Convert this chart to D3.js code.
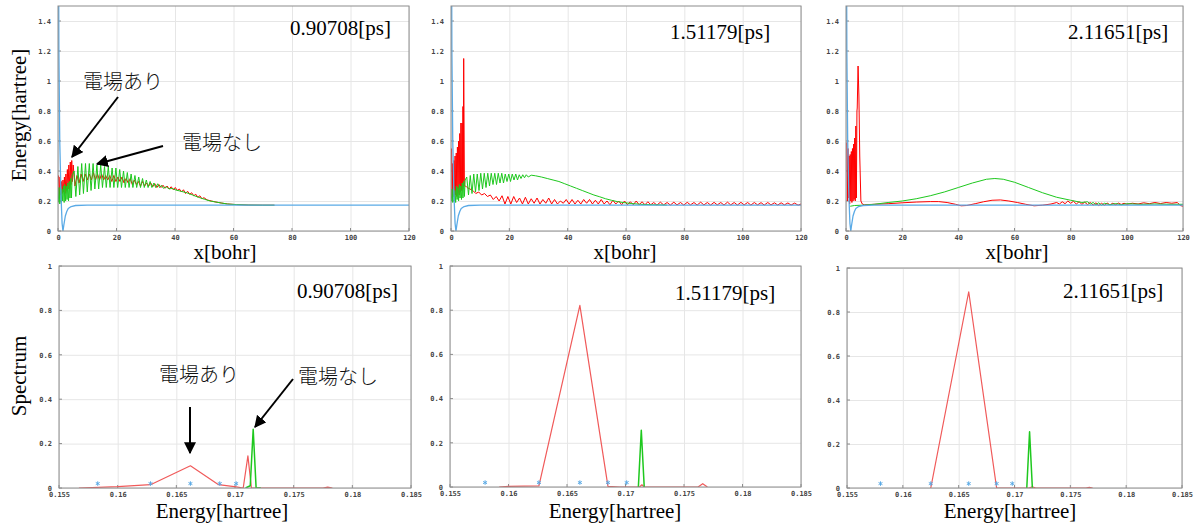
<!DOCTYPE html>
<html>
<head>
<meta charset="utf-8">
<script src="https://cdn.jsdelivr.net/npm/d3@7"></script>
<style>
  body { margin: 0; background: #fff; }
  svg { display: block; }
  .tick-label { font-family: "DejaVu Sans Mono", monospace; font-size: 7px; font-weight: bold; fill: #444; }
  .serif { font-family: "Liberation Serif", "Times New Roman", serif; fill: #000; }
  .jp { font-family: "Noto Sans CJK JP", sans-serif; font-size: 20px; font-weight: 300; fill: #111; }
</style>
</head>
<body>
<div id="chart"></div>
<script>
const redColor = '#ff0000';
const greenColor = '#1ec81e';
const blueColor = '#5aaae6';
const specRed = '#f05a5a';
const frameColor = '#8c8c8c';
const gridColor = '#e6e6e6';

// ---- tick values / labels
const topXTicks = [0, 20, 40, 60, 80, 100, 120];
const topXLabels = ['0', '20', '40', '60', '80', '100', '120'];
const topYTicks = [0, 0.2, 0.4, 0.6, 0.8, 1, 1.2, 1.4];
const topYLabels = ['0', '0.2', '0.4', '0.6', '0.8', '1', '1.2', '1.4'];
const botXTicks = [0.155, 0.16, 0.165, 0.17, 0.175, 0.18, 0.185];
const botXLabels = ['0.155', '0.16', '0.165', '0.17', '0.175', '0.18', '0.185'];
const botYTicks = [0, 0.2, 0.4, 0.6, 0.8, 1];
const botYLabels = ['0', '0.2', '0.4', '0.6', '0.8', '1'];

const times = ['0.90708[ps]', '1.51179[ps]', '2.11651[ps]'];

// ---- potential (same in all three energy plots)
const potential = [[0, 3], [0.3, 1.2], [0.6, 0.6], [1, 0.25], [1.4, 0.05], [1.7, 0], [2, 0.04], [2.5, 0.1],
  [3, 0.13], [3.5, 0.15], [4.5, 0.163], [6, 0.17], [10, 0.172], [120, 0.172]];

// ---- t = 0.90708 ps, energy vs x
const redT1 = [[0.2, 0.37], [0.45, 0.22], [0.7, 0.36], [0.95, 0.24], [1.2, 0.33], [1.45, 0.25], [1.7, 0.34], [1.95, 0.26],
  [2.2, 0.36], [2.45, 0.25], [2.7, 0.38], [2.95, 0.27], [3.2, 0.41], [3.45, 0.28], [3.7, 0.44], [3.95, 0.30], [4.2, 0.46],
  [4.45, 0.31], [4.7, 0.47], [4.95, 0.33], [5.2, 0.44], [5.8, 0.30], [6.5, 0.37], [7.2, 0.32], [7.9, 0.38], [8.6, 0.33],
  [9.3, 0.38], [10, 0.34], [10.7, 0.38], [11.4, 0.34], [12.1, 0.39], [12.8, 0.34], [13.5, 0.38], [14.2, 0.34], [14.9, 0.38],
  [15.6, 0.34], [16.3, 0.37], [17, 0.34], [17.7, 0.37], [18.4, 0.33], [19.1, 0.37], [19.8, 0.33], [20.5, 0.36], [21.2, 0.33],
  [21.9, 0.36], [22.6, 0.32], [23.3, 0.35], [24, 0.32], [24.7, 0.35], [25.4, 0.31], [26.1, 0.34], [26.8, 0.31], [27.5, 0.33],
  [28.2, 0.30], [28.9, 0.33], [29.6, 0.30], [30.3, 0.32], [31, 0.30], [31.7, 0.32], [32.4, 0.295], [33.1, 0.315], [33.8, 0.29],
  [34.5, 0.31], [35.2, 0.29], [35.9, 0.305], [36.6, 0.285], [37.3, 0.30], [38, 0.28], [38.7, 0.295], [39.4, 0.275], [40.1, 0.29],
  [40.8, 0.27], [41.5, 0.28], [42.2, 0.26], [42.9, 0.275], [43.6, 0.25], [44.3, 0.265], [45, 0.245], [45.7, 0.255], [46.4, 0.235],
  [47.1, 0.245], [47.8, 0.225], [48.5, 0.235], [49.2, 0.215], [49.9, 0.222], [51, 0.207], [52.5, 0.2], [54, 0.193], [56, 0.186],
  [58, 0.18], [61, 0.176], [65, 0.173], [70, 0.172], [74, 0.172]];
const greenT1 = [[0.1, 0.19], [0.35, 0.29], [0.6, 0.18], [0.85, 0.30], [1.1, 0.19], [1.35, 0.28], [1.6, 0.2], [1.85, 0.3],
  [2.1, 0.19], [2.35, 0.31], [2.6, 0.2], [2.85, 0.3], [3.1, 0.21], [3.35, 0.32], [3.6, 0.2], [3.85, 0.33], [4.1, 0.22],
  [4.35, 0.35], [4.6, 0.22], [4.85, 0.37], [5.5, 0.40], [6.1, 0.23], [6.8, 0.43], [7.4, 0.24], [8.1, 0.45], [8.7, 0.25],
  [9.4, 0.45], [10, 0.26], [10.7, 0.45], [11.3, 0.27], [12, 0.45], [12.6, 0.28], [13.3, 0.44], [13.9, 0.28], [14.6, 0.44],
  [15.2, 0.29], [15.9, 0.43], [16.5, 0.29], [17.2, 0.43], [17.8, 0.29], [18.5, 0.42], [19.1, 0.29], [19.8, 0.42], [20.4, 0.29],
  [21.1, 0.41], [21.7, 0.29], [22.4, 0.40], [23, 0.29], [23.7, 0.39], [24.3, 0.29], [25, 0.38], [25.6, 0.29], [26.3, 0.37],
  [26.9, 0.29], [27.6, 0.36], [28.2, 0.29], [28.9, 0.35], [29.5, 0.29], [30.2, 0.34], [30.8, 0.29], [31.5, 0.33], [32.1, 0.29],
  [32.8, 0.32], [33.4, 0.29], [34.1, 0.315], [34.7, 0.29], [35.4, 0.305], [36, 0.285], [37, 0.295], [38, 0.28], [39, 0.285],
  [40, 0.275], [42, 0.265], [44, 0.255], [46, 0.24], [48, 0.225], [50, 0.212], [52, 0.2], [54, 0.193], [56, 0.186], [58, 0.18],
  [61, 0.176], [65, 0.173], [70, 0.172], [74, 0.172]];

// ---- t = 1.51179 ps
const redT2 = [[0.2, 0.55], [0.4, 0.22], [0.6, 0.45], [0.8, 0.23], [1, 0.47], [1.2, 0.22], [1.4, 0.50], [1.6, 0.24],
  [1.8, 0.52], [2, 0.23], [2.2, 0.56], [2.4, 0.25], [2.6, 0.60], [2.8, 0.24], [3, 0.65], [3.2, 0.26], [3.4, 0.72], [3.6, 0.27],
  [3.8, 0.72], [4, 0.28], [4.1, 0.83], [4.2, 0.3], [4.35, 1.15], [4.6, 0.3], [5, 0.3], [5.5, 0.29], [6.5, 0.28], [7.5, 0.27],
  [8.5, 0.25], [9.5, 0.26], [10.5, 0.24], [11.5, 0.25], [12.5, 0.23], [13.5, 0.24], [14.5, 0.21], [15.5, 0.23], [16.5, 0.2],
  [17.5, 0.235], [18.5, 0.18], [19.5, 0.23], [20.5, 0.18], [21.5, 0.23], [22.5, 0.19], [23.5, 0.22], [24.5, 0.18], [25.5, 0.225],
  [26.5, 0.18], [27.5, 0.215], [28.5, 0.185], [29.5, 0.22], [30.5, 0.18], [31.5, 0.21], [32.5, 0.185], [33.5, 0.22], [34.5, 0.18],
  [35.5, 0.21], [36.5, 0.18], [37.5, 0.2], [38.5, 0.185], [39.5, 0.21], [40.5, 0.18], [41.5, 0.21], [42.5, 0.18], [43.5, 0.205],
  [44.5, 0.18], [45.5, 0.21], [46.5, 0.185], [47.5, 0.21], [48.5, 0.18], [49.5, 0.205], [50.5, 0.18], [51.5, 0.21], [52.5, 0.18],
  [53.5, 0.2], [54.5, 0.175], [55.5, 0.205], [56.5, 0.18], [57.5, 0.2], [58.5, 0.175], [59.5, 0.2], [60.5, 0.175], [61.5, 0.195],
  [62.5, 0.175], [63.5, 0.2], [64.5, 0.175], [65.5, 0.195], [66.5, 0.175], [67.5, 0.195], [68.5, 0.175], [69.5, 0.19],
  [70.6, 0.173], [71.8, 0.192], [72.9, 0.174], [74.1, 0.19], [75.2, 0.173], [76.4, 0.192], [77.5, 0.174], [78.7, 0.19],
  [79.8, 0.173], [81, 0.191], [82.1, 0.174], [83.3, 0.19], [84.4, 0.173], [85.6, 0.192], [86.7, 0.174], [87.9, 0.19],
  [89, 0.173], [90.2, 0.191], [91.3, 0.174], [92.5, 0.19], [93.6, 0.173], [94.8, 0.192], [95.9, 0.174], [97.1, 0.19],
  [98.2, 0.173], [99.4, 0.191], [100.5, 0.174], [101.7, 0.19], [102.8, 0.173], [104, 0.19], [105.1, 0.174], [106.3, 0.189],
  [107.4, 0.173], [108.6, 0.19], [109.7, 0.174], [110.9, 0.188], [112, 0.173], [113.2, 0.188], [114.3, 0.174], [115.5, 0.187],
  [116.6, 0.173], [117.8, 0.186], [119, 0.172], [120, 0.18]];
const greenT2 = [[0.1, 0.2], [0.35, 0.28], [0.6, 0.19], [0.85, 0.3], [1.1, 0.2], [1.35, 0.27], [1.6, 0.19], [1.85, 0.3],
  [2.1, 0.21], [2.35, 0.29], [2.6, 0.2], [2.85, 0.31], [3.1, 0.22], [3.35, 0.3], [3.6, 0.21], [3.85, 0.32], [4.1, 0.22],
  [4.35, 0.33], [4.6, 0.23], [4.85, 0.34], [5.4, 0.36], [6, 0.24], [6.6, 0.37], [7.2, 0.25], [7.8, 0.38], [8.4, 0.26], [9, 0.38],
  [9.6, 0.27], [10.2, 0.385], [10.8, 0.28], [11.4, 0.385], [12, 0.29], [12.6, 0.385], [13.2, 0.30], [13.8, 0.385], [14.4, 0.31],
  [15, 0.385], [15.6, 0.31], [16.2, 0.385], [16.8, 0.32], [17.4, 0.385], [18, 0.32], [18.6, 0.38], [19.2, 0.33], [19.8, 0.38],
  [20.4, 0.33], [21, 0.38], [21.6, 0.34], [22.2, 0.38], [22.8, 0.34], [23.4, 0.375], [24, 0.35], [24.6, 0.375], [25.2, 0.355],
  [25.8, 0.375], [26.5, 0.36], [27.5, 0.372], [29, 0.368], [31, 0.36], [33, 0.35], [35, 0.34], [37, 0.33], [39, 0.315],
  [41, 0.30], [43, 0.285], [45, 0.27], [47, 0.255], [49, 0.24], [51, 0.228], [53, 0.215], [55, 0.205], [57, 0.196], [59, 0.19],
  [62, 0.183], [65, 0.178], [69, 0.175], [74, 0.173]];

// ---- t = 2.11651 ps
const redT3 = [[0.3, 0.59], [0.5, 0.2], [0.7, 0.55], [0.9, 0.22], [1.1, 0.5], [1.3, 0.18], [1.5, 0.51], [1.7, 0.2],
  [1.9, 0.53], [2.1, 0.19], [2.3, 0.55], [2.5, 0.2], [2.7, 0.58], [2.9, 0.21], [3.1, 0.62], [3.3, 0.2], [3.5, 0.7], [3.7, 0.22],
  [3.9, 0.8], [4, 0.82], [4.3, 1.1], [4.6, 0.9], [4.9, 0.5], [5.3, 0.2], [5.8, 0.18], [6.5, 0.175], [10, 0.178], [15, 0.182],
  [20, 0.188], [25, 0.193], [30, 0.196], [33, 0.196], [36, 0.19], [39, 0.178], [41, 0.168], [43, 0.17], [46, 0.182], [49, 0.195],
  [52, 0.205], [55, 0.207], [58, 0.2], [61, 0.19], [64, 0.178], [67, 0.168], [70, 0.172], [73, 0.18], [75, 0.19], [76, 0.18],
  [77, 0.195], [78, 0.182], [79, 0.2], [80, 0.185], [81, 0.198], [82, 0.18], [83, 0.195], [84, 0.178], [85, 0.192], [86, 0.176],
  [87, 0.19], [88, 0.172], [89, 0.188], [90, 0.17], [91, 0.185], [92, 0.172], [93, 0.186], [94, 0.175], [95, 0.185], [96, 0.175],
  [97, 0.186], [98, 0.177], [99, 0.185], [100, 0.178], [102, 0.185], [104, 0.18], [106, 0.188], [108, 0.182], [110, 0.19],
  [112, 0.183], [114, 0.19], [116, 0.185], [118, 0.19], [119, 0.17], [120, 0.165]];
const greenT3 = [[1.5, 0.165], [3, 0.17], [6, 0.172], [10, 0.178], [15, 0.19], [20, 0.2], [25, 0.215], [30, 0.235],
  [35, 0.26], [40, 0.29], [45, 0.32], [50, 0.345], [53, 0.35], [56, 0.345], [60, 0.325], [65, 0.29], [70, 0.255], [75, 0.225],
  [80, 0.205], [84, 0.19], [86, 0.195], [87, 0.18], [88, 0.19], [89, 0.175], [90, 0.188], [91, 0.172], [92, 0.185], [94, 0.175],
  [96, 0.183], [98, 0.175], [100, 0.182], [105, 0.178], [110, 0.18], [115, 0.178], [120, 0.178]];

// ---- spectra
const specRedT1 = [[0.1567, 0], [0.16, 0.006], [0.1628, 0.015], [0.1662, 0.1], [0.1686, 0.015], [0.1701, 0.005], [0.1707, 0],
  [0.1711, 0.145], [0.1714, 0], [0.1725, 0], [0.1775, 0], [0.1779, 0.004], [0.1783, 0]];
const specGreenT1 = [[0.1709, 0], [0.1713, 0.01], [0.17155, 0.265], [0.1718, 0], [0.1722, 0]];
const specBlueT1 = [0.1583, 0.1628, 0.1662, 0.1687, 0.1701];

const specRedT2 = [[0.1592, 0], [0.16, 0.003], [0.1626, 0.005], [0.1661, 0.822], [0.1685, 0.003], [0.1695, 0], [0.1712, 0],
  [0.1714, 0.01], [0.1716, 0], [0.1762, 0], [0.1766, 0.015], [0.177, 0]];
const specGreenT2 = [[0.1711, 0], [0.17135, 0.257], [0.1716, 0]];
const specBlueT2 = [0.158, 0.1626, 0.1661, 0.1685, 0.1701];

const specRedT3 = [[0.1625, 0], [0.1659, 0.892], [0.1684, 0], [0.1713, 0], [0.1716, 0.005], [0.1719, 0], [0.1764, 0],
  [0.1767, 0.003], [0.177, 0]];
const specGreenT3 = [[0.1711, 0], [0.17135, 0.256], [0.1716, 0]];
const specBlueT3 = [0.158, 0.1625, 0.1659, 0.1684, 0.1698];
const starLevel = 0.02;

const svg = d3.select('#chart').append('svg')
  .attr('width', 1198)
  .attr('height', 523);

svg.append('rect').attr('width', 1198).attr('height', 523).attr('fill', '#fff');

const defs = svg.append('defs');
defs.append('marker')
  .attr('id', 'arrow-head')
  .attr('viewBox', '0 0 10 10')
  .attr('refX', 9).attr('refY', 5)
  .attr('markerWidth', 6).attr('markerHeight', 6)
  .attr('markerUnits', 'strokeWidth')
  .attr('orient', 'auto')
  .append('path')
  .attr('d', 'M0,0 L10,5 L0,10 z')
  .attr('fill', '#000');

let clipId = 0;

function drawPanel({left, right, bottom, top, xDomain, yDomain, xTicks, xLabels, yTicks, yLabels,
                     series, stars, timeText, timeX, timeY}) {
  const xScale = d3.scaleLinear().domain(xDomain).range([left, right]);
  const yScale = d3.scaleLinear().domain(yDomain).range([bottom, top]);
  const frameTop = yScale(yDomain[1]);
  const g = svg.append('g');

  // grid
  g.append('g')
    .attr('transform', `translate(0, ${bottom})`)
    .call(d3.axisBottom(xScale).tickValues(xTicks).tickSize(-(bottom - frameTop)).tickFormat(''))
    .call(a => a.select('.domain').remove())
    .call(a => a.selectAll('line').attr('stroke', gridColor));
  g.append('g')
    .attr('transform', `translate(${left}, 0)`)
    .call(d3.axisLeft(yScale).tickValues(yTicks).tickSize(-(right - left)).tickFormat(''))
    .call(a => a.select('.domain').remove())
    .call(a => a.selectAll('line').attr('stroke', gridColor));

  // tick labels
  const xAxis = g.append('g')
    .attr('transform', `translate(0, ${bottom})`)
    .call(d3.axisBottom(xScale).tickValues(xTicks).tickSize(0).tickPadding(4).tickFormat((d, i) => xLabels[i]));
  xAxis.select('.domain').remove();
  xAxis.selectAll('text').attr('class', 'tick-label').attr('fill', null);
  const yAxis = g.append('g')
    .attr('transform', `translate(${left}, 0)`)
    .call(d3.axisLeft(yScale).tickValues(yTicks).tickSize(0).tickPadding(7).tickFormat((d, i) => yLabels[i]));
  yAxis.select('.domain').remove();
  yAxis.selectAll('text').attr('class', 'tick-label').attr('fill', null);

  // small inner ticks
  g.selectAll('.tx').data(xTicks).join('line')
    .attr('x1', d => xScale(d)).attr('x2', d => xScale(d))
    .attr('y1', bottom).attr('y2', bottom - 3)
    .attr('stroke', frameColor);
  g.selectAll('.ty').data(yTicks).join('line')
    .attr('x1', left).attr('x2', left + 3)
    .attr('y1', d => yScale(d)).attr('y2', d => yScale(d))
    .attr('stroke', frameColor);

  const id = `clip-${clipId++}`;
  defs.append('clipPath').attr('id', id)
    .append('rect')
    .attr('x', left).attr('y', frameTop)
    .attr('width', right - left).attr('height', bottom - frameTop);

  const plot = g.append('g').attr('clip-path', `url(#${id})`);
  const line = d3.line().x(d => xScale(d[0])).y(d => yScale(d[1]));

  series.forEach(s => {
    plot.append('path')
      .datum(s.data)
      .attr('fill', 'none')
      .attr('stroke', s.color)
      .attr('stroke-width', s.width || 1)
      .attr('stroke-linejoin', 'round')
      .attr('d', line);
  });

  if (stars) {
    plot.selectAll('.star').data(stars).join('path')
      .attr('transform', d => `translate(${xScale(d)}, ${yScale(starLevel)})`)
      .attr('d', d3.symbol(d3.symbolAsterisk, 14))
      .attr('fill', 'none')
      .attr('stroke', blueColor)
      .attr('stroke-width', 1);
  }

  // frame
  g.append('rect')
    .attr('x', left).attr('y', frameTop)
    .attr('width', right - left).attr('height', bottom - frameTop)
    .attr('fill', 'none')
    .attr('stroke', frameColor);

  svg.append('text')
    .attr('class', 'serif')
    .attr('x', timeX).attr('y', timeY)
    .style('font-size', '21px')
    .text(timeText);
}

// top row: energy vs x
const topPanels = [
  {left: 58, right: 409, red: redT1, green: greenT1, timeX: 290, timeY: 35},
  {left: 451, right: 801, red: redT2, green: greenT2, timeX: 670, timeY: 39},
  {left: 846, right: 1183, red: redT3, green: greenT3, timeX: 1068, timeY: 39}
];
topPanels.forEach((p, i) => {
  drawPanel({
    left: p.left, right: p.right, bottom: 231, top: 6,
    xDomain: [0, 120], yDomain: [0, 1.5],
    xTicks: topXTicks, xLabels: topXLabels, yTicks: topYTicks, yLabels: topYLabels,
    series: [
      {data: p.red, color: redColor, width: 1},
      {data: p.green, color: greenColor, width: 1},
      {data: potential, color: blueColor, width: 1.3}
    ],
    timeText: times[i], timeX: p.timeX, timeY: p.timeY
  });
});

// bottom row: spectra
const botPanels = [
  {left: 59, right: 411, bottom: 488, top: 266, red: specRedT1, green: specGreenT1, blue: specBlueT1, timeX: 297, timeY: 298},
  {left: 450, right: 801, bottom: 487, top: 266, red: specRedT2, green: specGreenT2, blue: specBlueT2, timeX: 675, timeY: 300},
  {left: 847, right: 1182, bottom: 488, top: 268, red: specRedT3, green: specGreenT3, blue: specBlueT3, timeX: 1063, timeY: 298}
];
botPanels.forEach((p, i) => {
  drawPanel({
    left: p.left, right: p.right, bottom: p.bottom, top: p.top,
    xDomain: [0.155, 0.185], yDomain: [0, 1],
    xTicks: botXTicks, xLabels: botXLabels, yTicks: botYTicks, yLabels: botYLabels,
    series: [
      {data: p.red, color: specRed, width: 1.2},
      {data: p.green, color: greenColor, width: 1.5}
    ],
    stars: p.blue,
    timeText: times[i], timeX: p.timeX, timeY: p.timeY
  });
});

// axis titles
function title(text, x, y, rotate) {
  svg.append('text')
    .attr('class', 'serif')
    .attr('text-anchor', 'middle')
    .attr('transform', rotate ? `translate(${x}, ${y}) rotate(-90)` : `translate(${x}, ${y})`)
    .style('font-size', '21px')
    .text(text);
}
title('Energy[hartree]', 26, 115, true);
title('Spectrum', 26, 376, true);
title('x[bohr]', 225, 259);
title('x[bohr]', 625, 259);
title('x[bohr]', 1017, 259);
title('Energy[hartree]', 222, 518);
title('Energy[hartree]', 615, 518);
title('Energy[hartree]', 1010, 518);

// annotations
function note(text, x, y) {
  svg.append('text').attr('class', 'jp').attr('x', x).attr('y', y).text(text);
}
function arrow(x1, y1, x2, y2) {
  svg.append('line')
    .attr('x1', x1).attr('y1', y1).attr('x2', x2).attr('y2', y2)
    .attr('stroke', '#000')
    .attr('stroke-width', 2)
    .attr('marker-end', 'url(#arrow-head)');
}
note('電場あり', 83, 89);
arrow(118, 97, 72, 157);
note('電場なし', 182, 150);
arrow(163, 146, 97, 164);
note('電場あり', 159, 382);
arrow(190, 407, 190, 453);
note('電場なし', 298, 384);
arrow(293, 379, 255, 427);
</script>
</body>
</html>
